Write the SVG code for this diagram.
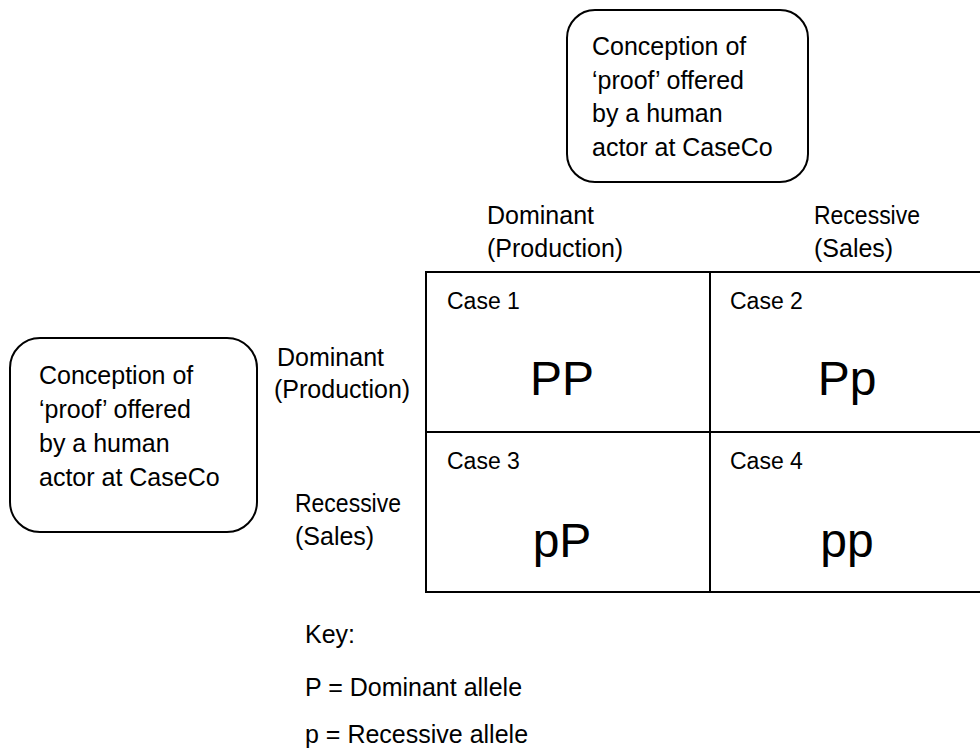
<svg xmlns="http://www.w3.org/2000/svg" width="980" height="752" viewBox="0 0 980 752">
<style>
.box{fill:#fff;stroke:#000;stroke-width:2}
.t{font-family:"Liberation Sans",Arial,sans-serif;font-size:25px;fill:#000}
.c{font-family:"Liberation Sans",Arial,sans-serif;font-size:23px;fill:#000}
.big{font-family:"Liberation Sans",Arial,sans-serif;font-size:48px;fill:#000;text-anchor:middle}
.grid{fill:none;stroke:#000;stroke-width:2}
</style>
<rect width="980" height="752" fill="#fff"/>
<g id="top-box">
<rect class="box" x="567" y="10" width="241" height="172" rx="28"/>
<text class="t" x="592" y="55">Conception of</text>
<text class="t" x="592" y="89">‘proof’ offered</text>
<text class="t" x="592" y="122">by a human</text>
<text class="t" x="592" y="156">actor at CaseCo</text>
</g>
<g id="left-box">
<rect class="box" x="10" y="338" width="247" height="194" rx="30"/>
<text class="t" x="39" y="384">Conception of</text>
<text class="t" x="39" y="418">‘proof’ offered</text>
<text class="t" x="39" y="452">by a human</text>
<text class="t" x="39" y="486">actor at CaseCo</text>
</g>
<g id="column-headers">
<text class="t" x="487" y="224">Dominant</text>
<text class="t" x="487" y="257">(Production)</text>
<text class="t" x="814" y="224" textLength="106" lengthAdjust="spacingAndGlyphs">Recessive</text>
<text class="t" x="814" y="257">(Sales)</text>
</g>
<g id="row-headers">
<text class="t" x="277" y="366">Dominant</text>
<text class="t" x="274" y="398">(Production)</text>
<text class="t" x="295" y="512" textLength="106" lengthAdjust="spacingAndGlyphs">Recessive</text>
<text class="t" x="295" y="545">(Sales)</text>
</g>
<g id="grid">
<rect class="grid" x="426" y="272" width="560" height="320"/>
<line class="grid" x1="710" y1="272" x2="710" y2="592"/>
<line class="grid" x1="426" y1="432" x2="986" y2="432"/>
</g>
<g id="case1">
<text class="c" x="447" y="309">Case 1</text>
<text class="big" x="562" y="395">PP</text>
</g>
<g id="case2">
<text class="c" x="730" y="309">Case 2</text>
<text class="big" x="847" y="395">Pp</text>
</g>
<g id="case3">
<text class="c" x="447" y="469">Case 3</text>
<text class="big" x="562" y="557">pP</text>
</g>
<g id="case4">
<text class="c" x="730" y="469">Case 4</text>
<text class="big" x="847" y="557">pp</text>
</g>
<g id="key">
<text class="t" x="305" y="643">Key:</text>
<text class="t" x="305" y="696">P = Dominant allele</text>
<text class="t" x="305" y="743">p = Recessive allele</text>
</g>
</svg>
